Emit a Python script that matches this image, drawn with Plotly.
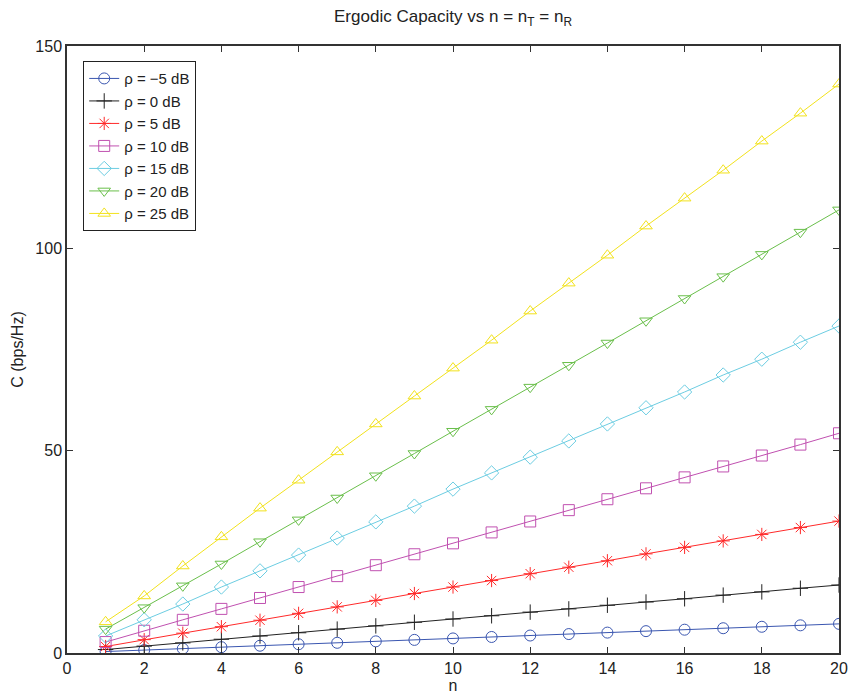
import plotly.graph_objects as go

# Number of antennas n = n_T = n_R
n = list(range(1, 21))

# Ergodic capacity (bps/Hz) for each SNR
cap_m5 = [0.36, 0.72, 1.08, 1.44, 1.80, 2.16, 2.52, 2.88, 3.24, 3.60,
          3.96, 4.32, 4.68, 5.04, 5.40, 5.76, 6.12, 6.48, 6.84, 7.2]
cap_0 = [0.85, 1.7, 2.5, 3.4, 4.2, 5.0, 5.9, 6.7, 7.6, 8.4,
         9.2, 10.1, 10.9, 11.8, 12.6, 13.4, 14.3, 15.1, 16.0, 16.8]
cap_5 = [1.6, 3.3, 4.9, 6.5, 8.1, 9.8, 11.4, 13.0, 14.7, 16.3,
         17.9, 19.6, 21.2, 22.8, 24.5, 26.1, 27.7, 29.3, 31.0, 32.6]
cap_10 = [2.7, 5.5, 8.2, 10.9, 13.6, 16.3, 19.0, 21.7, 24.4, 27.1,
          29.8, 32.5, 35.3, 38.0, 40.7, 43.4, 46.1, 48.8, 51.5, 54.3]
cap_15 = [4.2, 8.2, 12.1, 16.3, 20.3, 24.2, 28.4, 32.4, 36.3, 40.5,
          44.5, 48.4, 52.4, 56.6, 60.6, 64.5, 68.7, 72.6, 76.8, 80.8]
cap_20 = [5.9, 11.2, 16.6, 22.0, 27.5, 32.9, 38.3, 43.8, 49.3, 54.8,
          60.2, 65.7, 71.1, 76.6, 82.1, 87.6, 93.0, 98.5, 104.0, 109.5]
cap_25 = [7.7, 14.1, 21.5, 28.7, 35.8, 42.7, 49.7, 56.6, 63.5, 70.4,
          77.3, 84.5, 91.4, 98.3, 105.5, 112.4, 119.3, 126.5, 133.4, 140.6]

labels = ["ρ = −5 dB", "ρ = 0 dB", "ρ = 5 dB", "ρ = 10 dB",
          "ρ = 15 dB", "ρ = 20 dB", "ρ = 25 dB"]
series = [cap_m5, cap_0, cap_5, cap_10, cap_15, cap_20, cap_25]
colors = ["#3a56b0", "#222222", "#ff2a2a", "#c050b0",
          "#6ccde2", "#6abf4b", "#f2e21c"]
symbols = ["circle-open", "cross-thin-open", "asterisk-open", "square-open",
           "diamond-open", "triangle-down-open", "triangle-up-open"]

fig = go.Figure()
for lab, y, c, s in zip(labels, series, colors, symbols):
    fig.add_trace(go.Scatter(
        x=n, y=y, name=lab, mode="lines+markers",
        line=dict(color=c, width=1),
        marker=dict(symbol=s, size=11, color=c, line=dict(color=c, width=1)),
    ))

axis_common = dict(
    showgrid=False, zeroline=False, showline=True, mirror="ticks",
    linecolor="#333333", linewidth=1.5, ticks="inside", ticklen=6,
    tickcolor="#333333", tickfont=dict(size=16, color="#222222"),
    automargin=False,
)

fig.update_layout(
    width=849, height=695,
    margin=dict(l=67, r=10, t=46, b=42),
    paper_bgcolor="white", plot_bgcolor="white",
    font=dict(family="Liberation Sans, Arial, sans-serif", color="#222222"),
    title=dict(text="Ergodic Capacity vs n = n<sub>T</sub> = n<sub>R</sub>",
               xref="paper", x=0.5, xanchor="center", y=0.985, yanchor="top",
               font=dict(size=17)),
    xaxis=dict(range=[0, 20], tickvals=list(range(0, 21, 2)),
               title=dict(text="n", font=dict(size=16), standoff=2),
               **axis_common),
    yaxis=dict(range=[0, 150], tickvals=[0, 50, 100, 150],
               title=dict(text="C (bps/Hz)", font=dict(size=16), standoff=8),
               **axis_common),
    legend=dict(x=0.021, y=0.975, xanchor="left", yanchor="top",
                bgcolor="white", bordercolor="#222222", borderwidth=1,
                font=dict(size=15), tracegroupgap=0,
                entrywidth=88, entrywidthmode="pixels"),
    showlegend=True,
)

fig.write_html("out.html")
